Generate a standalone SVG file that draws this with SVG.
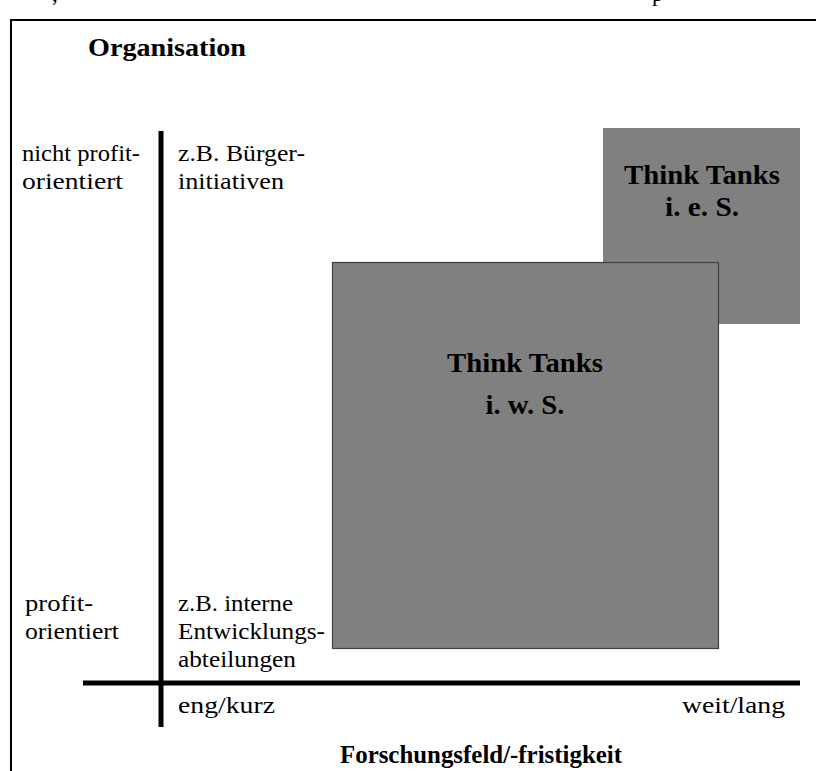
<svg xmlns="http://www.w3.org/2000/svg" width="816" height="771" viewBox="0 0 816 771">
  <style>
    text { font-family: "Liberation Serif", "DejaVu Serif", serif; fill: #000; }
    .lbl { font-size: 23px; }
    .ttl { font-size: 26px; font-weight: bold; }
    .tank { font-size: 28px; font-weight: bold; text-anchor: middle; }
    .axis { stroke: #000; stroke-width: 5; fill: none; }
    .box { fill: #808080; }
  </style>
  <rect width="816" height="771" fill="#fff"/>

  <!-- tail of the preceding line, clipped by the page edge -->
  <text class="lbl" x="52" y="1">,</text>
  <text class="lbl" x="652" y="1">p</text>

  <!-- outer frame -->
  <rect x="11" y="20" width="820" height="770" fill="none" stroke="#000" stroke-width="2"/>

  <text class="ttl" x="88" y="56" textLength="158" lengthAdjust="spacingAndGlyphs">Organisation</text>

  <g id="tt-ies">
    <rect class="box" x="603" y="128" width="197" height="196"/>
    <text class="tank" x="702" y="184" textLength="156" lengthAdjust="spacingAndGlyphs">Think Tanks</text>
    <text class="tank" x="702" y="216" textLength="74" lengthAdjust="spacingAndGlyphs">i. e. S.</text>
  </g>

  <g id="tt-iws">
    <rect class="box" x="332.5" y="262.5" width="386" height="386" stroke="#404040" stroke-width="1.2"/>
    <text class="tank" x="525" y="372" textLength="156" lengthAdjust="spacingAndGlyphs">Think Tanks</text>
    <text class="tank" x="525" y="414" textLength="79" lengthAdjust="spacingAndGlyphs">i. w. S.</text>
  </g>

  <g id="axes">
    <line class="axis" x1="161" y1="131" x2="161" y2="727"/>
    <line class="axis" x1="83" y1="683" x2="800" y2="683"/>
  </g>

  <g id="row-nonprofit">
    <text class="lbl" x="22" y="161" textLength="118" lengthAdjust="spacingAndGlyphs">nicht profit-</text>
    <text class="lbl" x="22" y="189" textLength="101" lengthAdjust="spacingAndGlyphs">orientiert</text>
    <text class="lbl" x="178" y="161" textLength="127" lengthAdjust="spacingAndGlyphs">z.B. Bürger-</text>
    <text class="lbl" x="178" y="189" textLength="106" lengthAdjust="spacingAndGlyphs">initiativen</text>
  </g>

  <g id="row-profit">
    <text class="lbl" x="25" y="611" textLength="68" lengthAdjust="spacingAndGlyphs">profit-</text>
    <text class="lbl" x="25" y="639" textLength="94" lengthAdjust="spacingAndGlyphs">orientiert</text>
    <text class="lbl" x="178" y="611" textLength="115" lengthAdjust="spacingAndGlyphs">z.B. interne</text>
    <text class="lbl" x="178" y="639" textLength="147" lengthAdjust="spacingAndGlyphs">Entwicklungs-</text>
    <text class="lbl" x="178" y="667" textLength="118" lengthAdjust="spacingAndGlyphs">abteilungen</text>
  </g>

  <g id="x-labels">
    <text class="lbl" x="178" y="713" textLength="97" lengthAdjust="spacingAndGlyphs">eng/kurz</text>
    <text class="lbl" x="682" y="713" textLength="103" lengthAdjust="spacingAndGlyphs">weit/lang</text>
    <text class="ttl" x="340" y="763" textLength="282" lengthAdjust="spacingAndGlyphs">Forschungsfeld/-fristigkeit</text>
  </g>
</svg>
